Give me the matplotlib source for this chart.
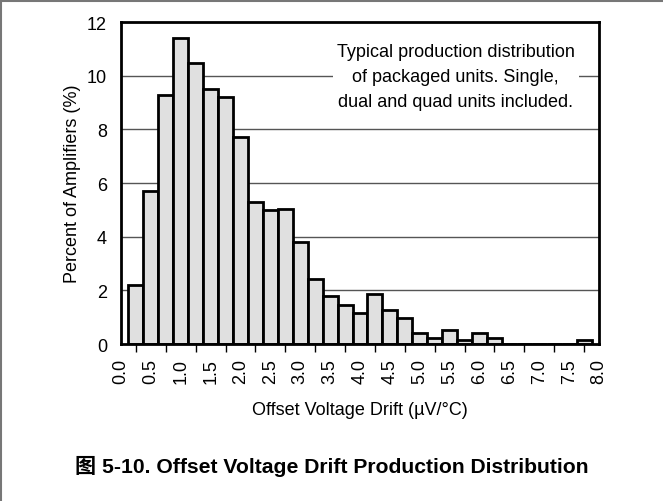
import matplotlib
matplotlib.use('Agg')
import matplotlib.pyplot as plt
from matplotlib.lines import Line2D

# Data
drift = [0.25, 0.5, 0.75, 1.0, 1.25, 1.5, 1.75, 2.0, 2.25, 2.5, 2.75, 3.0, 3.25, 3.5, 3.75,
         4.0, 4.25, 4.5, 4.75, 5.0, 5.25, 5.5, 5.75, 6.0, 6.25, 6.5, 6.75, 7.0, 7.25, 7.5, 7.75]
percent = [2.2, 5.7, 9.27, 11.39, 10.46, 9.52, 9.2, 7.71, 5.29, 5.0, 5.02, 3.79, 2.42, 1.78, 1.46,
           1.14, 1.85, 1.25, 0.96, 0.41, 0.22, 0.52, 0.15, 0.41, 0.24, 0, 0, 0, 0, 0, 0.15]
xtick_labels = ['%.1f' % (i * 0.5) for i in range(17)]
note = 'Typical production distribution\nof packaged units. Single,\ndual and quad units included.'

plt.rcParams['font.family'] = ['Liberation Sans', 'Noto Sans CJK SC', 'DejaVu Sans']

fig = plt.figure(figsize=(6.63, 5.02), dpi=100)
ax = fig.add_axes([0.1825, 0.3127, 0.721, 0.6413])

for y in [2, 4, 6, 8, 10]:
    ax.axhline(y, color='#555555', lw=1.0, zorder=1)

ax.bar(drift, percent, width=0.25, color='#e0e0e0', edgecolor='black', linewidth=2, zorder=2)

ax.set_xlim(0, 8)
ax.set_ylim(0, 12)
ax.set_xticks([i * 0.5 for i in range(17)])
ax.set_xticklabels(xtick_labels, rotation=90)
ax.set_xticks(drift, minor=True)
ax.set_yticks(range(0, 13, 2))
ax.tick_params(axis='x', which='major', length=0, labelsize=13, pad=10)
ax.tick_params(axis='x', which='minor', length=6, width=1, direction='out')
ax.tick_params(axis='y', length=0, labelsize=13, pad=10)
for s in ax.spines.values():
    s.set_linewidth(2)

ax.set_xlabel('Offset Voltage Drift (µV/°C)', fontsize=13, labelpad=13)
ax.set_ylabel('Percent of Amplifiers (%)', fontsize=13, labelpad=4)

ax.text(5.6, 9.97, note, ha='center', va='center', fontsize=13, linespacing=1.6, zorder=3,
        bbox=dict(facecolor='white', edgecolor='none', pad=3))

fig.text(0.5, 0.07, '图 5-10. Offset Voltage Drift Production Distribution',
         ha='center', va='center', fontsize=15.2, fontweight='bold')

# figure frame (top and left)
fig.add_artist(Line2D([0, 1], [0.997, 0.997], transform=fig.transFigure, color='#777777', lw=1.5))
fig.add_artist(Line2D([0.002, 0.002], [0, 1], transform=fig.transFigure, color='#777777', lw=1.5))

fig.savefig('out.png', dpi=100)
